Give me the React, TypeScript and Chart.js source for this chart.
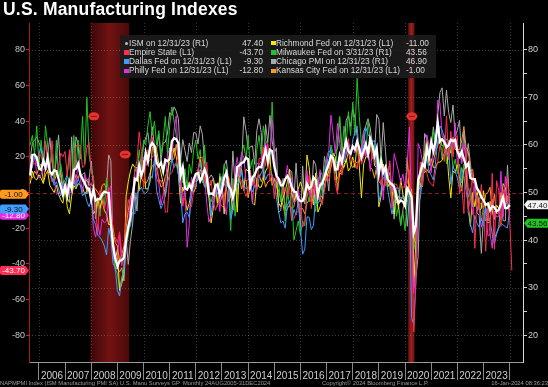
import React, { useEffect, useRef } from "react";
import { Chart, registerables } from "chart.js";

Chart.register(...registerables);

// Monthly observations, plotted at month end, first point = Aug 2005
const START_YEAR = 2005;
const START_MONTH = 8;

const yearLabels = ["2006","2007","2008","2009","2010","2011","2012","2013","2014","2015","2016","2017","2018","2019","2020","2021","2022","2023"];
const leftTicks = [-80, -60, -40, -20, 0, 20, 40, 60, 80];
const rightTicks = [20, 25, 30, 35, 40, 45, 50, 55, 60, 65, 70, 75, 80];
const rightGrid = [20, 30, 40, 50, 60, 70, 80];
const gridYears = [2006, 2008, 2010, 2012, 2014, 2016, 2018, 2020, 2022, 2024];
const recessionStart = [2007.97, 2020.12];
const recessionEnd = [2009.45, 2020.36];
const eventDates = [2008.1, 2009.3, 2020.26];
const eventLevels = [66, 58, 66];

const seriesLabels = [
  "ISM on 12/31/23 (R1)",
  "Empire State (L1)",
  "Dallas Fed on 12/31/23 (L1)",
  "Philly Fed on 12/31/23 (L1)",
  "Richmond Fed on 12/31/23 (L1)",
  "Milwaukee Fed on 3/31/23 (R1)",
  "Chicago PMI on 12/31/23 (R1)",
  "Kansas City Fed on 12/31/23 (L1)",
];

const ism = [
  53.6, 57.9, 58.0, 57.3, 55.1,
  54.8, 56.7, 55.2, 57.3, 54.4, 53.8, 54.7, 54.5, 52.9, 51.2, 49.5, 51.4,
  49.3, 52.3, 50.9, 54.7, 55.0, 56.0, 53.8, 52.9, 52.0, 50.9, 50.8, 48.4,
  50.7, 48.3, 48.6, 48.6, 49.6, 50.2, 50.0, 49.9, 43.5, 38.9, 36.2, 34.5,
  35.6, 35.8, 36.3, 40.1, 42.8, 44.8, 48.9, 52.9, 52.6, 55.7, 53.6, 54.9,
  58.4, 56.5, 59.6, 60.4, 59.7, 56.2, 55.5, 56.3, 54.4, 56.9, 56.6, 57.0,
  60.8, 61.4, 61.2, 60.4, 53.5, 55.3, 50.9, 50.6, 51.6, 50.8, 52.7, 53.9,
  54.1, 52.4, 53.4, 54.8, 53.5, 49.7, 49.8, 49.6, 51.5, 51.7, 49.5, 50.7,
  53.1, 54.2, 51.3, 50.7, 49.0, 50.9, 55.4, 55.7, 56.2, 56.4, 57.3, 57.0,
  51.3, 53.2, 53.7, 54.9, 55.4, 55.3, 57.1, 59.0, 56.6, 59.0, 58.7, 55.5,
  53.5, 52.9, 51.5, 51.5, 52.8, 53.5, 52.7, 51.1, 50.2, 50.1, 48.6, 48.2,
  48.2, 49.5, 51.8, 50.8, 51.3, 53.2, 52.6, 49.4, 51.5, 51.9, 53.2, 54.7,
  56.0, 57.7, 57.2, 54.8, 54.9, 57.8, 56.3, 58.8, 60.8, 58.7, 58.2, 59.7,
  59.1, 60.8, 59.3, 57.3, 58.7, 60.2, 58.1, 61.3, 59.8, 57.7, 59.3, 54.1,
  56.6, 54.2, 55.3, 52.8, 52.1, 51.7, 51.2, 49.1, 47.8, 48.3, 48.1, 47.2,
  50.9, 50.1, 49.1, 41.5, 43.1, 52.6, 54.2, 56.0, 55.4, 59.3, 57.5, 60.7,
  58.7, 60.8, 64.7, 60.7, 61.2, 60.6, 59.5, 59.9, 61.1, 60.8, 61.1, 58.7,
  57.6, 58.6, 57.1, 55.4, 56.1, 53.0, 52.8, 52.8, 50.9, 50.2, 49.0, 48.4,
  47.4, 47.7, 46.3, 47.1, 46.9, 46.0, 46.4, 47.6, 49.0, 46.7, 46.7, 47.4,
];

const empire = [
  12.0, 18.0, 16.0, 15.0, 22.0,
  20.0, 16.0, 29.0, 15.0, 12.0, 29.0, 12.0, 9.0, 15.0, 22.0, 20.0, 23.0,
  9.0, 24.0, 1.0, 12.0, 26.0, 27.0, 26.0, 14.0, 15.0, 25.0, 28.0, 11.0,
  9.0, -11.0, -22.0, 1.0, -3.0, -9.0, -4.0, 2.0, -7.0, -24.0, -25.0, -28.0,
  -22.0, -34.0, -38.0, -14.0, -4.0, -9.0, -0.6, 12.0, 18.0, 34.0, 23.0, 2.0,
  15.0, 24.0, 22.0, 31.0, 19.0, 20.0, 5.0, 7.0, 4.0, -11.0, -11.0, 10.0,
  11.0, 15.0, 17.0, 21.0, 11.0, -7.0, -3.0, -8.0, -8.0, -8.0, 0.6, 9.0,
  13.0, 19.0, 20.0, 6.0, 17.0, 3.0, 7.0, -5.0, -10.0, -6.0, -5.0, -8.0,
  -7.0, 10.0, 9.0, 3.0, -1.4, 7.8, 9.5, 8.2, 6.3, 1.5, -2.2, 1.0,
  12.5, 4.5, 5.6, 1.3, 19.0, 19.3, 25.6, 14.7, 27.5, 6.2, 10.2, -3.6,
  10.0, 7.8, 6.9, -1.2, 3.1, -2.0, 3.9, -14.9, -14.7, -11.4, -10.7, -4.6,
  -19.4, -16.6, 0.6, 9.6, -9.0, 6.0, 0.6, -4.2, -2.0, -6.8, 1.5, 9.0,
  6.5, 18.7, 16.4, 5.2, -1.0, 19.8, 9.8, 25.2, 24.4, 30.2, 19.4, 18.0,
  17.7, 13.1, 22.5, 15.8, 20.1, 25.0, 22.6, 25.6, 19.0, 21.1, 23.3, 10.9,
  3.9, 8.8, 3.7, 10.1, 17.8, -8.6, 4.3, 4.8, 2.0, 4.0, 2.9, 3.5,
  4.8, 12.9, -21.5, -78.2, -48.5, -0.2, 17.2, 3.7, 17.0, 10.5, 6.3, 4.9,
  3.5, 12.1, 17.4, 26.3, 24.3, 17.4, 43.0, 18.3, 34.3, 19.8, 30.9, 31.9,
  -0.7, 3.1, -11.8, 24.6, -11.6, -1.2, 11.1, -31.3, -1.5, -9.1, 4.5, -11.2,
  -32.9, -5.8, -24.6, 10.8, -31.8, 6.6, 1.1, -19.0, 1.9, -4.6, 9.1, -14.5,
  -43.7,
];

const dallas = [
  10, 15, 20, 18, 22,
  25, 20, 15, 14, 12, 8, 4, 6, 2, -2, 5, 7,
  10, 4, 2, 6, 3, 8, 4, -2, 0, -5, -8, -4,
  -15, -18, -24, -25, -27, -30, -35, -20, -25, -40, -42, -55,
  -58, -48, -45, -32, -20, -19, -11, -12, 0, 1, 3, 0,
  -0.6, 1, 10, 8, 19, 1, -4, -9, -6, -2, 6, 10,
  19, 14, 16, 10, 1, -17, -12, -11, -14, -2, 4, 3,
  12, 17, 10, 3, 5, 6, -13, -2, 2, -1, 1, 9,
  5, 2, 7, -15, -10, 7, 4, 7, 12, 4, 2, 3,
  4, 0.3, 4, 2, 8, 11, 13, 7, 10, 10, 10, 5,
  -3, -11, -17, -16, -20, -7, -4.6, -15.8, -9.5, -12.7, -4.9, -20.1,
  -34.6, -31.8, -13.6, -13.9, -20.8, -18.3, -1.3, -6.2, -3.7, -1.5, 10, 15,
  22, 24.5, 16.9, 16.8, 17.2, 15, 16.8, 17, 21.3, 27.6, 19.4, 29.7,
  33.4, 37.2, 21.4, 21.8, 26.8, 36.5, 32.3, 30.9, 28.1, 29.4, 17.6, -5.1,
  1, 13.1, 8.3, 2, -5.3, -12.1, -6.3, 2.7, 1.5, -5.1, -1.3, -3.2,
  -0.2, 1.2, -70, -74, -49.2, -6.1, -3, 8, 13.6, 19.8, 12, 9.7,
  7, 17.2, 28.9, 37.3, 34.9, 31.1, 27.3, 25.3, 4.6, 14.6, 11.8, 8.1,
  2, 14, 8.7, 1.1, -7.3, -17.7, -22.6, -12.9, -17.2, -19.4, -14.4, -18.8,
  -8.4, -13.5, -15.7, -23.4, -29.1, -23.2, -20, -17.2, -18.1, -19.2, -19.9, -9.3,
];

const philly = [
  16, 14, 21, 10, 8,
  10, 13, 14, 15, 11, 6, 8, -1, 0, -0.5, 4, 1,
  5, 0.6, -0.5, 12, 4, 18, 8, 0, 10, 7, 8, -1,
  -20, -25, -18, -24, -15, -17, -16, 1, 3.8, -37, -38, -36,
  -24, -41, -35, -24, -22, -2, -7, 4, 14, 11, 16, 20,
  15, 17, 18, 20, 21, 8, 5, -7, -1, 1, 22, 24,
  19, 35, 43, 18, 3.9, -7.7, 3.2, -30.7, -17.5, 8.7, 3.6, 10.3,
  7.3, 10.2, 12.5, 8.5, -5.8, -16.6, -12.9, -7.1, -1.9, 5.7, -10.7, 4.6,
  -5.8, -12.5, 2, 1.3, -5.2, 12.5, 19.8, 9.3, 22.3, 19.8, 6.5, 7,
  9.4, -6.3, 9, 16.6, 15.4, 17.8, 23.9, 28, 22.5, 20.7, 40.8, 24.5,
  6.3, 5.2, 5, 7.5, 6.7, 15.2, 5.7, 8.3, -6, -4.5, 1.9, -5.9,
  -3.5, -2.8, 12.4, -1.6, -1.8, 4.7, -2.9, 2, 12.8, 9.7, 7.6, 19.7,
  23.6, 43.3, 32.8, 22, 38.8, 27.6, 19.5, 18.9, 23.8, 27.9, 22.7, 26.2,
  22.2, 25.8, 22.3, 23.2, 34.4, 19.9, 25.7, 11.9, 22.9, 22.2, 12.9, 9.4,
  17, -4.1, 13.7, 8.5, 16.6, 0.3, 21.8, 16.8, 12, 5.6, 10.4, 2.4,
  17, 36.7, -12.7, -56.6, -43.1, 27.5, 24.1, 17.2, 15, 32.3, 26.3, 11.1,
  26.5, 23.1, 51.8, 50.2, 31.5, 30.7, 21.9, 19.4, 30.7, 23.8, 39, 15.4,
  23.2, 16, 27.4, 17.6, 2.6, -3.3, -12.3, 6.2, -9.9, -8.7, -19.4, -13.8,
  -8.9, -24.3, -23.2, -31.3, -10.4, -13.7, -13.5, 12, -13.5, 9, -5.9, -12.8,
];

const richmond = [
  5, 12, 8, 7, 10,
  8, 5, 10, 12, 4, 2, 0, 4, -1, -4, -6, 2,
  -8, -12, -2, 4, 2, 5, 4, 3, -1, 1, 1, -4,
  -12, -10, -4, -9, -4, -10, -12, -18, -18, -26, -38, -32,
  -55, -51, -45, -2, 6, 12, 16, 14, 14, 1, 10, 18,
  2, 2, 6, 25, 27, 24, 16, 11, 5, -2, 8, 25,
  18, 25, 20, 10, -6, 3, -1, -10, -6, 2, 0, 3,
  12, 20, 7, 14, 4, -3, -17, -9, 4, -7, 9, 4,
  -12, 6, 9, -1, -10, 10, -11, 14, 13, 1, 13, 12,
  9, -6, -7, 7, 3, 3, 7, 12, 14, 20, 4, 7,
  6, -6, -8, -3, 1, 6, 13, 0, -5, -1, 2, 6,
  2, -4, 21, 14, -1, -7, 11, -11, -8, -4, 4, 8,
  12, 17, 22, 20, 1, 11, 14, 14, 19, 12, 14, 20,
  14, 28, 15, -3, 16, 20, 20, 24, 29, 15, 14, -8,
  -2, 16, 10, 3, 5, 3, -12, 1, -9, 8, -1, -5,
  20, -2, 2, -53, -27, 0, 10, 18, 21, 29, 15, 19,
  14, 14, 17, 17, 18, 22, 27, 9, -3, 12, 11, 16,
  8, 1, 13, 14, -9, -19, 0, -8, 0, -10, -9, 1,
  -11, -16, -5, -10, -15, -7, -9, -7, 5, 3, -5, -11,
];

const milwaukee = [
  60, 62, 58, 64, 56,
  61, 56, 64, 60, 55, 58, 52, 61, 53, 56, 53, 50,
  54, 58, 50, 62, 55, 61, 57, 66, 56, 70, 58, 55,
  53, 47, 49, 45, 50, 47, 53, 50, 43, 38, 34, 33,
  30, 32, 34, 39, 41, 44, 49, 55, 54, 59, 55, 61,
  60, 64, 67, 62, 65, 60, 63, 58, 61, 66, 58, 64,
  68, 65, 62, 59, 57, 52, 55, 51, 56, 54, 59, 61,
  57, 59, 52, 60, 53, 49, 48, 50, 52, 47, 54, 50,
  56, 54, 51, 42, 53, 45, 50, 56, 58, 60, 57, 62,
  55, 57, 52, 59, 62, 58, 64, 61, 60, 56, 69, 58,
  54, 52, 48, 53, 44, 51, 47, 50, 40, 42, 44, 41,
  44, 43, 50, 48, 52, 49, 46, 51, 48, 53, 55, 57,
  55, 60, 58, 54, 61, 66, 58, 64, 60, 67, 62, 69,
  62, 74, 66, 60, 63, 58, 65, 61, 57, 60, 54, 56,
  58, 55, 52, 55, 51, 48, 52, 45, 47, 43, 46, 42,
  48, 50, 44, 38, 40, 49, 55, 52, 58, 62, 57, 60,
  63, 58, 65, 61, 57, 62, 56, 59, 60, 55, 57, 54,
  56, 52, 56, 53, 49, 51, 47, 52, 46, 49, 44, 47,
  44, 46, 43.56,
];

const chicago = [
  57.0, 60.5, 61.0, 61.7, 60.5,
  59.3, 55.8, 60.5, 57.8, 61.5, 56.5, 53.4, 57.1, 62.1, 53.5, 49.9, 51.6,
  48.8, 47.9, 61.7, 52.9, 61.7, 60.2, 53.1, 53.8, 54.2, 49.7, 52.9, 56.6,
  51.5, 44.5, 48.2, 48.3, 49.1, 49.6, 50.8, 57.9, 56.7, 37.8, 33.8, 34.1,
  33.3, 34.2, 31.4, 40.1, 34.9, 39.9, 43.4, 50.0, 46.1, 54.2, 56.1, 60.0,
  61.5, 62.6, 58.8, 63.8, 59.7, 59.1, 62.3, 56.7, 60.4, 60.6, 62.5, 66.8,
  66.2, 68.0, 67.1, 65.4, 56.6, 61.1, 58.8, 56.5, 60.4, 58.4, 62.6, 62.5,
  60.2, 64.0, 62.2, 56.2, 52.7, 52.9, 53.7, 53.0, 49.7, 49.9, 50.4, 51.6,
  55.6, 56.8, 52.4, 49.0, 58.7, 51.6, 52.3, 53.0, 55.7, 65.9, 63.0, 59.1,
  59.6, 59.8, 55.9, 63.0, 65.5, 62.6, 52.6, 64.3, 60.5, 66.2, 60.8, 58.3,
  59.4, 45.8, 46.3, 52.3, 46.2, 49.4, 54.7, 54.4, 48.7, 56.2, 48.7, 42.9,
  55.6, 47.6, 53.6, 50.4, 49.3, 56.8, 55.8, 51.5, 54.2, 50.6, 57.6, 54.6,
  50.3, 57.4, 57.7, 58.3, 59.4, 65.7, 58.9, 58.9, 65.2, 66.2, 63.9, 67.6,
  65.7, 61.9, 57.4, 57.6, 62.7, 64.1, 65.5, 63.6, 60.4, 58.4, 66.4, 65.4,
  56.7, 64.7, 58.7, 52.6, 54.2, 49.7, 44.4, 50.4, 47.1, 43.2, 46.3, 48.9,
  42.9, 49.0, 47.8, 35.4, 32.3, 36.6, 51.9, 51.2, 62.4, 61.1, 58.2, 59.5,
  63.8, 59.5, 66.3, 71.0, 72.0, 66.1, 71.5, 66.8, 64.7, 68.4, 61.8, 63.1,
  65.2, 56.3, 62.9, 56.4, 60.3, 56.0, 52.1, 52.2, 45.7, 45.2, 37.2, 44.9,
  44.3, 43.6, 43.8, 48.6, 40.4, 41.5, 42.8, 48.7, 44.1, 44.0, 55.8, 46.9,
];

const kansasCity = [
  10, 8, 12, 10, 14,
  16, 6, 14, 12, 10, 8, 6, 10, 8, 12, 3, 4,
  2, 6, 8, 5, 10, 8, 12, 6, 5, 7, 4, 5,
  3, 2, 0, -2, 4, 5, 2, -5, -10, -20, -28, -30,
  -38, -35, -30, -20, -10, -3, 1, 5, 8, 10, 8, 6,
  5, 7, 11, 15, 16, 13, 8, 3, 4, 9, 12, 17,
  18, 19, 27, 18, 2, 1, 3, 4, 6, 4, 8, 6,
  7, 13, 9, 3, 9, 3, 5, 8, 2, 4, -6, -2,
  -2, 3, -5, -2, 2, 6, -1, 8, 2, 6, 7, -3,
  5, 4, 10, 7, 10, 6, 9, 3, 6, 7, 8, 8,
  3, 1, -4, -7, -13, -9, -7, -9, -8, -1, -8, -9,
  -9, -12, -6, -4, -5, 2, -6, -4, 6, 1, 1, 11,
  9, 14, 20, 7, 8, 11, 10, 16, 17, 23, 16, 14,
  16, 17, 17, 26, 29, 28, 23, 14, 13, 8, 15, 6,
  5, 1, 10, 5, 4, 0, -1, -6, -2, -3, -3, -5,
  -1, 5, -17, -30, -19, 1, 3, 14, 11, 13, 11, 14,
  17, 24, 26, 31, 26, 27, 30, 29, 22, 31, 24, 24,
  24, 29, 37, 25, 23, 12, 13, 3, 1, -7, -6, -9,
  -1, 0, 3, -10, -1, -12, -11, 0, -8, -8, -2, -1,
];

const seriesColors = ["#ffffff", "#ff2d52", "#3f9dff", "#e52ce5", "#f2e60c", "#22c422", "#a9a9a9", "#ff9a1f"];
const seriesValues = [ism, empire, dallas, philly, richmond, milwaukee, chicago, kansasCity];
const seriesAxes = ["yR", "yL", "yL", "yL", "yL", "yR", "yR", "yL"];

const X_MIN = 2005.62;
const X_MAX = 2024.51;
const LEFT_MIN = -95;
const LEFT_MAX = 95;
const RIGHT_MIN = 14.375;
const RIGHT_MAX = 85.625;

const FONT = "'Liberation Sans', Arial, sans-serif";

function toPoints(values: number[]) {
  return values.map((v, i) => ({ x: START_YEAR + (START_MONTH + i) / 12, y: v }));
}
const last = (a: number[]) => a[a.length - 1];

function tagPath(ctx: CanvasRenderingContext2D, y: number, side: "left" | "right") {
  const h = 9;
  const t = y - h / 2, b = y + h / 2;
  ctx.beginPath();
  if (side === "left") {
    ctx.moveTo(2, t);
    ctx.lineTo(25.5, t);
    ctx.lineTo(29, y);
    ctx.lineTo(25.5, b);
    ctx.lineTo(2, b);
    ctx.quadraticCurveTo(0, b, 0, b - 2);
    ctx.lineTo(0, t + 2);
    ctx.quadraticCurveTo(0, t, 2, t);
  } else {
    ctx.moveTo(524, y);
    ctx.lineTo(527.5, t);
    ctx.lineTo(548, t);
    ctx.lineTo(548, b);
    ctx.lineTo(527.5, b);
  }
  ctx.closePath();
}

function drawTag(ctx: CanvasRenderingContext2D, y: number, side: "left" | "right", bg: string, fg: string, text: string) {
  ctx.save();
  tagPath(ctx, y, side);
  ctx.fillStyle = bg;
  ctx.fill();
  ctx.fillStyle = fg;
  ctx.font = `8px ${FONT}`;
  ctx.textAlign = "center";
  ctx.textBaseline = "middle";
  ctx.fillText(text, side === "left" ? 13.5 : 537.5, y + 0.5);
  ctx.restore();
}

const decorPlugin = {
  id: "bbgDecor",
  beforeDatasetsDraw(chart: any) {
    const { ctx, chartArea: a, scales } = chart;
    const xs = scales.x;
    const yR = scales.yR;
    ctx.save();
    ctx.beginPath();
    ctx.rect(a.left, a.top, a.right - a.left, a.bottom - a.top);
    ctx.clip();
    recessionStart.forEach((s, i) => {
      const x0 = xs.getPixelForValue(s);
      const x1 = xs.getPixelForValue(recessionEnd[i]);
      const g = ctx.createLinearGradient(x0, 0, x1, 0);
      const narrow = x1 - x0 < 12;
      g.addColorStop(0, narrow ? "#6a1010" : "#3c0707");
      g.addColorStop(0.5, narrow ? "#9c2020" : "#721313");
      g.addColorStop(1, narrow ? "#6a1010" : "#4a0909");
      ctx.fillStyle = g;
      ctx.fillRect(x0, a.top, x1 - x0, a.bottom - a.top);
    });
    ctx.lineWidth = 1;
    rightGrid.forEach((v) => {
      const y = Math.round(yR.getPixelForValue(v)) + 0.5;
      if (v === 50) {
        ctx.strokeStyle = "#7a2222";
        ctx.setLineDash([4, 3]);
      } else {
        ctx.strokeStyle = "rgba(125,125,125,0.5)";
        ctx.setLineDash([1, 2]);
      }
      ctx.beginPath();
      ctx.moveTo(a.left, y);
      ctx.lineTo(a.right, y);
      ctx.stroke();
    });
    ctx.strokeStyle = "rgba(125,125,125,0.45)";
    ctx.setLineDash([1, 2]);
    gridYears.forEach((yr) => {
      const x = Math.round(xs.getPixelForValue(yr)) + 0.5;
      ctx.beginPath();
      ctx.moveTo(x, a.top);
      ctx.lineTo(x, a.bottom);
      ctx.stroke();
    });
    ctx.restore();
  },
  afterDatasetsDraw(chart: any) {
    const { ctx, scales } = chart;
    ctx.save();
    eventDates.forEach((d, i) => {
      const x = scales.x.getPixelForValue(d);
      const y = scales.yR.getPixelForValue(eventLevels[i]);
      ctx.fillStyle = "#e3332f";
      ctx.beginPath();
      ctx.ellipse(x, y, 5.5, 4, 0, 0, Math.PI * 2);
      ctx.fill();
      ctx.strokeStyle = "#8d0f0f";
      ctx.lineWidth = 1;
      ctx.beginPath();
      ctx.moveTo(x - 3, y);
      ctx.lineTo(x + 3, y);
      ctx.stroke();
    });
    ctx.restore();
  },
  afterDraw(chart: any) {
    const { ctx, scales } = chart;
    const yL = scales.yL;
    const yR = scales.yR;
    drawTag(ctx, yL.getPixelForValue(last(empire)), "left", "#ff2d52", "#ffffff", last(empire).toFixed(2));
    drawTag(ctx, yL.getPixelForValue(last(philly)), "left", "#e52ce5", "#ffffff", last(philly).toFixed(2));
    drawTag(ctx, yL.getPixelForValue(last(dallas)), "left", "#3f9dff", "#111111", last(dallas).toFixed(2));
    drawTag(ctx, yL.getPixelForValue(last(kansasCity)), "left", "#ff9a1f", "#111111", last(kansasCity).toFixed(2));
    drawTag(ctx, yR.getPixelForValue(last(milwaukee)), "right", "#22c422", "#111111", last(milwaukee).toFixed(2));
    drawTag(ctx, yR.getPixelForValue(last(ism)), "right", "#f4f4f4", "#111111", last(ism).toFixed(2));
  },
};

export default function App() {
  const canvasRef = useRef<HTMLCanvasElement | null>(null);

  useEffect(() => {
    document.body.style.margin = "0";
    document.body.style.background = "#000";
    const canvas = canvasRef.current;
    if (!canvas) return;
    const datasets = seriesValues.map((vals, i) => ({
      label: seriesLabels[i],
      data: toPoints(vals),
      yAxisID: seriesAxes[i],
      borderColor: seriesColors[i],
      backgroundColor: seriesColors[i],
      borderWidth: i === 0 ? 2.3 : 1,
      pointRadius: 0,
      tension: 0,
      fill: false,
    }));
    const chart = new Chart(canvas, {
      type: "line",
      data: { datasets },
      options: {
        animation: false,
        responsive: false,
        maintainAspectRatio: false,
        parsing: false,
        layout: { padding: { top: 23, left: 0, right: 0, bottom: 0 } },
        font: { family: FONT },
        plugins: { legend: { display: false }, tooltip: { enabled: false }, title: { display: false } },
        scales: {
          x: {
            type: "linear",
            position: "bottom",
            min: X_MIN,
            max: X_MAX,
            afterBuildTicks: (s: any) => {
              s.ticks = yearLabels.map((l) => ({ value: Number(l) + 0.5 }));
            },
            afterFit: (s: any) => {
              s.height = 25;
            },
            ticks: {
              autoSkip: false,
              maxRotation: 0,
              padding: -10,
              color: "#cfcfcf",
              font: { size: 10, family: FONT },
              callback: (_v: any, i: number) => yearLabels[i],
            },
            grid: { offset: true, drawOnChartArea: false, drawTicks: true, tickLength: 18, tickColor: "#8a8a8a", color: "#8a8a8a" },
            border: { color: "#9a9a9a", width: 1 },
          },
          yL: {
            type: "linear",
            position: "left",
            min: LEFT_MIN,
            max: LEFT_MAX,
            afterBuildTicks: (s: any) => {
              s.ticks = leftTicks.map((v) => ({ value: v }));
            },
            afterFit: (s: any) => {
              s.width = 29;
            },
            ticks: { padding: 1, color: "#c8c8c8", font: { size: 9, family: FONT }, callback: (v: any) => String(v) },
            grid: { drawOnChartArea: false, drawTicks: true, tickLength: 3, tickColor: "#d42020" },
            border: { color: "#a81a1a", width: 1 },
          },
          yR: {
            type: "linear",
            position: "right",
            min: RIGHT_MIN,
            max: RIGHT_MAX,
            afterBuildTicks: (s: any) => {
              s.ticks = rightTicks.map((v) => ({ value: v }));
            },
            afterFit: (s: any) => {
              s.width = 25;
            },
            ticks: {
              padding: 1,
              color: "#d0d0d0",
              font: { size: 9, family: FONT },
              callback: (v: any) => (Number(v) % 10 === 0 ? String(v) : ""),
            },
            grid: { drawOnChartArea: false, drawTicks: true, tickLength: 4, tickColor: "#cfcfcf" },
            border: { color: "#d6d6d6", width: 1 },
          },
        },
      },
      plugins: [decorPlugin],
    } as any);
    return () => chart.destroy();
  }, []);

  const legendItems = seriesLabels.map((label, i) => {
    const col = i < 4 ? 0 : 1;
    const row = i % 4;
    return { label, value: last(seriesValues[i]).toFixed(2), color: seriesColors[i], col, row, isIsm: i === 0 };
  });

  const textStyle = { position: "absolute" as const, fontSize: 8.3, lineHeight: "9.2px", color: "#d9d9d9", whiteSpace: "nowrap" as const };

  return (
    <div style={{ position: "absolute", left: 0, top: 0, width: 548, height: 387, background: "#000", overflow: "hidden", fontFamily: FONT }}>
      <canvas ref={canvasRef} width={548} height={387} style={{ position: "absolute", left: 0, top: 0, width: 548, height: 387 }} />
      <div style={{ position: "absolute", left: 3, top: -1, color: "#ffffff", fontWeight: "bold", fontSize: 17.5, lineHeight: "20px", letterSpacing: 0.2, whiteSpace: "nowrap" }}>
        U.S. Manufacturing Indexes
      </div>
      <div style={{ position: "absolute", left: 120, top: 35, width: 316, height: 43, background: "rgba(28,28,28,0.88)" }} />
      {legendItems.map((it, i) => {
        const top = 38.6 + it.row * 9.2;
        const markerLeft = it.col === 0 ? 124 : 271;
        const textLeft = it.col === 0 ? 129 : 276;
        return (
          <React.Fragment key={i}>
            <div
              style={{
                position: "absolute",
                left: it.isIsm ? markerLeft + 0.5 : markerLeft,
                top: top + (it.isIsm ? 3 : 2.3),
                width: it.isIsm ? 3 : 4.5,
                height: it.isIsm ? 3 : 4.5,
                borderRadius: it.isIsm ? 2 : 0,
                background: it.isIsm ? "#bfbfbf" : it.color,
              }}
            />
            <div style={{ ...textStyle, left: textLeft, top }}>{it.label}</div>
            <div style={it.col === 0 ? { ...textStyle, right: 548 - 263, top } : { ...textStyle, left: 406, top }}>{it.value}</div>
          </React.Fragment>
        );
      })}
      <div style={{ position: "absolute", left: 0, top: 380, fontSize: 5.8, lineHeight: "7px", color: "#9c9c9c", whiteSpace: "nowrap" }}>
        NAPMPMI Index (ISM Manufacturing PMI SA) U.S. Manu Surveys GP&nbsp;&nbsp;Monthly 24AUG2005-31DEC2024
      </div>
      <div style={{ position: "absolute", left: 322, top: 380, fontSize: 5.8, lineHeight: "7px", color: "#9c9c9c", whiteSpace: "nowrap" }}>
        Copyright© 2024 Bloomberg Finance L.P.
      </div>
      <div style={{ position: "absolute", right: 0, top: 380, fontSize: 5.8, lineHeight: "7px", color: "#9c9c9c", whiteSpace: "nowrap" }}>
        16-Jan-2024 08:36:23
      </div>
    </div>
  );
}
